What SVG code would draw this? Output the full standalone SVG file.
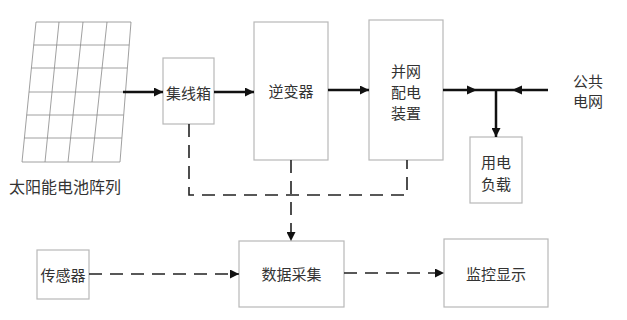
<svg xmlns="http://www.w3.org/2000/svg" width="627" height="320" viewBox="0 0 627 320">
<defs>
<style>
.box{fill:#fff;stroke:#b8b8b8;stroke-width:1.2}
.t{font-family:"Noto Sans CJK SC","Noto Sans CJK JP",sans-serif;font-size:15px;fill:#333;text-anchor:middle;dominant-baseline:central}
.big{font-size:16px}
.solid{stroke:#111;stroke-width:2.5;fill:none}
.dash{stroke:#222;stroke-width:1.6;fill:none;stroke-dasharray:13 8}
.grid{stroke:#888;stroke-width:0.8;fill:none}
</style>
<marker id="ah" viewBox="0 0 10 10" refX="10" refY="5" markerWidth="10" markerHeight="9" markerUnits="userSpaceOnUse" orient="auto">
<path d="M0,0 L10,5 L0,10 Z" fill="#111"/>
</marker>
</defs>
<rect width="627" height="320" fill="#fff"/>
<g id="solar">
<path class="grid" d="M36,22 L131,22 L120,162 L22,162 Z"/>
<path class="grid" d="M33.7,45 L129.2,45 M31.4,68 L127.3,68 M29.0,92 L125.5,92 M26.7,115 L123.6,115 M24.3,138 L121.8,138"/>
<path class="grid" d="M59,22 L45,162 M83,22 L68,162 M107,22 L92,162"/>
<text class="t big" x="65" y="186">太阳能电池阵列</text>
</g>
<g id="combiner">
<rect class="box" x="163" y="58" width="51" height="66"/>
<text class="t" x="188.5" y="92">集线箱</text>
</g>
<g id="inverter">
<rect class="box" x="254" y="22" width="74" height="138"/>
<text class="t" x="291" y="90">逆变器</text>
</g>
<g id="gridtie">
<rect class="box" x="369" y="20" width="74" height="140"/>
<text class="t" x="406" y="70">并网</text>
<text class="t" x="406" y="91">配电</text>
<text class="t" x="406" y="112">装置</text>
</g>
<g id="load">
<rect class="box" x="470" y="137" width="52" height="66"/>
<text class="t" x="496" y="161">用电</text>
<text class="t" x="496" y="183">负载</text>
</g>
<g id="publicgrid">
<text class="t" x="588" y="80">公共</text>
<text class="t" x="588" y="100">电网</text>
</g>
<g id="sensor">
<rect class="box" x="37" y="250" width="52" height="49"/>
<text class="t" x="63" y="274">传感器</text>
</g>
<g id="daq">
<rect class="box" x="239" y="241" width="105" height="66"/>
<text class="t" x="291.5" y="273">数据采集</text>
</g>
<g id="monitor">
<rect class="box" x="444" y="239" width="104" height="68"/>
<text class="t" x="496" y="273">监控显示</text>
</g>
<g id="connectors">
<line class="solid" x1="123" y1="92" x2="163" y2="92" marker-end="url(#ah)"/>
<line class="solid" x1="214" y1="92" x2="254" y2="92" marker-end="url(#ah)"/>
<line class="solid" x1="328" y1="90" x2="369" y2="90" marker-end="url(#ah)"/>
<line class="solid" x1="443" y1="90" x2="548" y2="90"/>
<path d="M467,85.5 L477,90 L467,94.5 Z" fill="#111"/>
<path d="M522,85.5 L512,90 L522,94.5 Z" fill="#111"/>
<line class="solid" x1="496" y1="90" x2="496" y2="137" marker-end="url(#ah)"/>
<path class="dash" d="M189,124 L189,195 L407,195 L407,160"/>
<line class="dash" x1="291" y1="160" x2="291" y2="241" marker-end="url(#ah)"/>
<line class="dash" x1="89" y1="274" x2="239" y2="274" marker-end="url(#ah)"/>
<line class="dash" x1="344" y1="273" x2="444" y2="273" marker-end="url(#ah)"/>
</g>
</svg>
